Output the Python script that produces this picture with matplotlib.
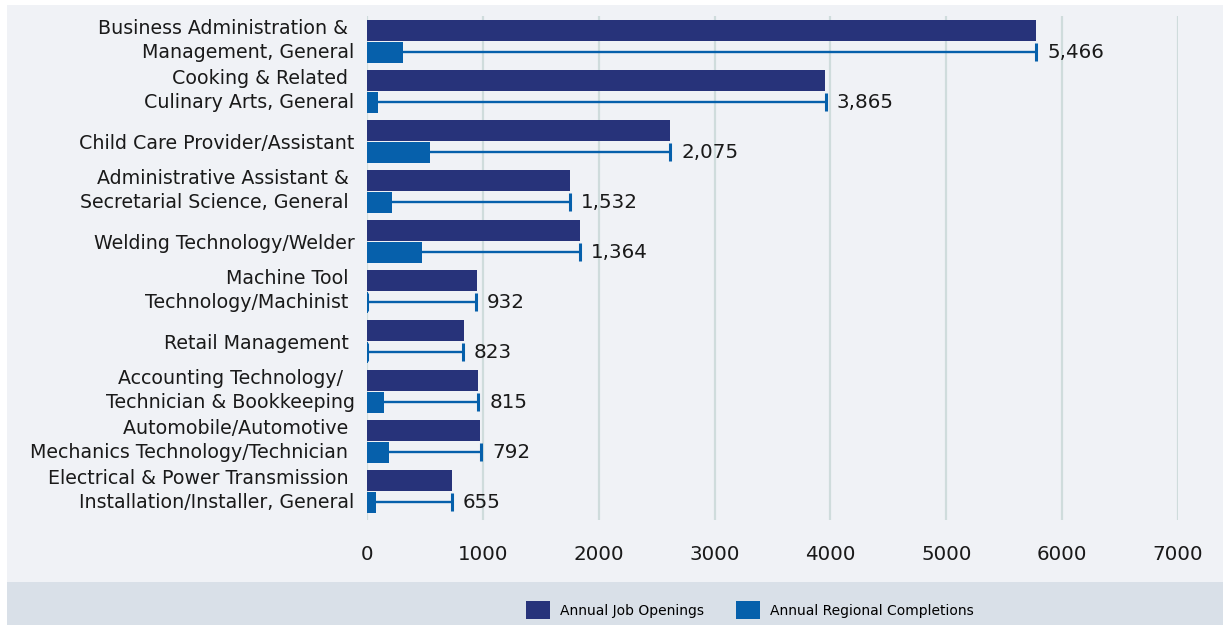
import numpy as np
import matplotlib
matplotlib.use('Agg')
import matplotlib.pyplot as plt
from matplotlib.patches import Rectangle, Patch

plt.rcParams['font.family'] = ['DejaVu Sans']

categories = [
    'Business Administration & \nManagement, General',
    'Cooking & Related \nCulinary Arts, General',
    'Child Care Provider/Assistant',
    'Administrative Assistant & \nSecretarial Science, General ',
    'Welding Technology/Welder',
    'Machine Tool \nTechnology/Machinist ',
    'Retail Management ',
    'Accounting Technology/  \nTechnician & Bookkeeping',
    'Automobile/Automotive \nMechanics Technology/Technician ',
    'Electrical & Power Transmission \nInstallation/Installer, General',
]
openings = [5777, 3955, 2617, 1753, 1839, 950, 838, 959, 976, 734]
completions = [311, 95, 544, 216, 475, 7, 5, 147, 190, 78]
gap = [5466, 3865, 2075, 1532, 1364, 932, 823, 815, 792, 655]
xticks = [0, 1000, 2000, 3000, 4000, 5000, 6000, 7000]

navy = '#27337a'
blue = '#0660ab'
bg = '#f0f2f6'
band = '#d9e0e8'

W, H = 1223, 625
fig = plt.figure(figsize=(W / 100, H / 100), dpi=100, facecolor='white')

# page background + legend band
fig.patches.append(Rectangle((7 / W, 43 / H), 1 - 7 / W, 1 - 5 / H - 43 / H,
                             transform=fig.transFigure, facecolor=bg, edgecolor='none', zorder=-2))
fig.patches.append(Rectangle((7 / W, 0), 1 - 7 / W, 43 / H,
                             transform=fig.transFigure, facecolor=band, edgecolor='none', zorder=-2))

ax = fig.add_axes([367 / W, 1 - 520 / H, (1178 - 367) / W, (520 - 16) / H])
ax.set_facecolor('none')

n = len(categories)
idx = np.arange(n)
y_open = idx + 0.287
y_comp = idx + 0.727
bh = 0.41

ends = np.array(completions) + np.array(gap)
ax.errorbar(ends / 2, y_comp, xerr=ends / 2, fmt='none', ecolor=blue,
            elinewidth=1.7, capsize=6.2, capthick=2.2, zorder=2)
ax.barh(y_open, openings, height=bh, color=navy, zorder=3)
ax.barh(y_comp, completions, height=bh, color=blue, zorder=3)

for e, yv, g in zip(ends, y_comp, gap):
    ax.annotate(f'{g:,}', (e, yv), xytext=(8, 0), textcoords='offset points',
                va='center', ha='left', fontsize=14.3, color='#1a1a1a')

ax.set_xlim(0, 7000)
ax.set_ylim(10.08, 0)
ax.set_xticks(xticks)
ax.set_xticklabels([str(t) for t in xticks])
# two-line labels sit a little higher than single-line ones
two_line = np.array(['\n' in c for c in categories])
ax.set_yticks(idx + 0.507 - 0.1 * two_line)
ax.set_yticklabels(categories, fontsize=13.7, linespacing=1.33, color='#1a1a1a')
ax.tick_params(axis='x', length=0, pad=18, labelsize=14.3, labelcolor='#1a1a1a')
ax.tick_params(axis='y', length=0, pad=9)
ax.xaxis.grid(True, color='#cfdcdc', linewidth=1.6, zorder=0)
ax.set_axisbelow(True)
for s in ax.spines.values():
    s.set_visible(False)

handles = [Patch(facecolor=navy, label='Annual Job Openings'),
           Patch(facecolor=blue, label='Annual Regional Completions')]
fig.legend(handles=handles, loc='center', bbox_to_anchor=(750 / W, 1 - 610 / H),
           ncol=2, frameon=False, fontsize=10, handlelength=1.7, handleheight=1.65,
           handletextpad=0.75, columnspacing=2.3)

fig.savefig('out.png', dpi=100, facecolor='white')
